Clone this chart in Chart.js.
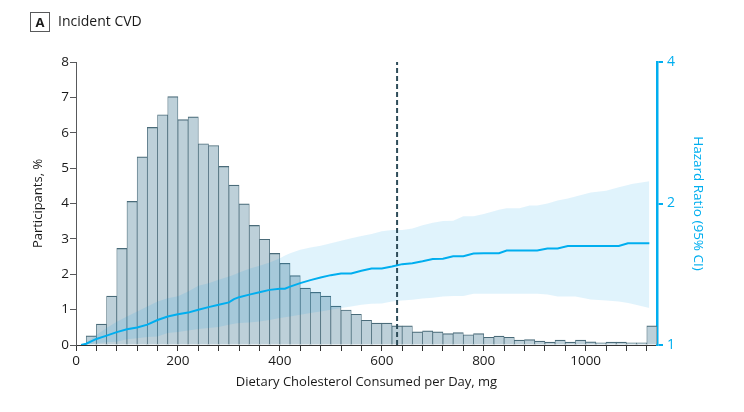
<!DOCTYPE html>
<html>
<head>
<meta charset="utf-8">
<script src="https://cdn.jsdelivr.net/npm/chart.js@4.4.1/dist/chart.umd.min.js"></script>
<style>
html,body{margin:0;padding:0;background:#fff;}
#wrap{position:relative;width:744px;height:412px;overflow:hidden;}
#c{position:absolute;left:0;top:0;}
.panel{position:absolute;left:30px;top:12px;width:18px;height:18px;border:1.5px solid #58595b;font:bold 13px 'Open Sans';line-height:18px;text-align:center;color:#1a1a1a;}
.ttl{position:absolute;left:58px;top:11px;font:14px 'Open Sans';line-height:20px;color:#1a1a1a;}
</style>
</head>
<body>
<div id="wrap">
<canvas id="c" width="744" height="412"></canvas>
<div class="panel">A</div>
<div class="ttl">Incident CVD</div>
</div>
<script>
// Histogram: 20-mg bins (start of each bin) and percentage of participants
const binWidth = 20;
const binStart = [20,40,60,80,100,120,140,160,180,200,220,240,260,280,300,320,340,360,380,400,
  420,440,460,480,500,520,540,560,580,600,620,640,660,680,700,720,740,760,780,800,
  820,840,860,880,900,920,940,960,980,1000,1020,1040,1060,1080,1100,1120];
const pct = [0.26,0.59,1.38,2.73,4.06,5.32,6.15,6.51,7.02,6.37,6.45,5.69,5.64,5.05,4.52,3.99,3.38,2.99,2.59,2.31,
  1.96,1.61,1.49,1.38,1.10,0.99,0.87,0.70,0.62,0.62,0.54,0.54,0.37,0.40,0.37,0.32,0.35,0.29,0.32,0.22,
  0.25,0.22,0.14,0.15,0.11,0.08,0.14,0.08,0.14,0.09,0.06,0.08,0.08,0.06,0.06,0.54];

// Hazard ratio curve with 95% CI
const hrDose = [10,20,40,60,80,100,120,140,160,180,200,220,240,260,280,300,310,320,340,360,
  380,400,410,420,440,460,480,500,520,540,560,580,600,620,640,660,680,700,720,740,
  760,780,800,830,845,870,890,905,925,945,965,980,1010,1040,1065,1083,1090,1125];
const hrEst = [1.0,1.006,1.03,1.047,1.065,1.08,1.09,1.105,1.13,1.15,1.162,1.172,1.188,1.204,1.218,1.232,1.252,1.264,1.28,1.295,
  1.31,1.317,1.317,1.331,1.354,1.374,1.392,1.408,1.42,1.42,1.438,1.454,1.454,1.469,1.486,1.493,1.507,1.524,1.526,1.544,
  1.545,1.565,1.567,1.568,1.588,1.588,1.588,1.588,1.604,1.604,1.624,1.624,1.624,1.624,1.624,1.646,1.646,1.646];
const hrUpper = [1.0,1.012,1.05,1.087,1.12,1.15,1.178,1.208,1.237,1.258,1.27,1.30,1.336,1.354,1.376,1.398,1.41,1.426,1.452,1.474,
  1.498,1.53,1.55,1.568,1.594,1.612,1.627,1.646,1.667,1.687,1.706,1.722,1.745,1.757,1.757,1.77,1.797,1.82,1.835,1.838,
  1.88,1.88,1.90,1.94,1.954,1.954,1.98,1.98,2.0,2.03,2.05,2.07,2.11,2.13,2.165,2.19,2.2,2.23];
const hrLower = [1.0,1.0,1.008,1.014,1.016,1.028,1.033,1.04,1.043,1.06,1.066,1.073,1.081,1.087,1.092,1.104,1.11,1.114,1.117,1.122,
  1.13,1.141,1.145,1.15,1.16,1.169,1.178,1.188,1.198,1.208,1.218,1.224,1.226,1.238,1.243,1.248,1.256,1.26,1.268,1.272,
  1.272,1.285,1.285,1.285,1.285,1.285,1.285,1.285,1.28,1.268,1.268,1.268,1.25,1.243,1.238,1.228,1.224,1.198];

const refDose = 630;
const xLabelValues = [0,200,400,600,800,1000];
const hrTicks = [1,2,4];

const FONT = "'Open Sans'";
const TXT = '#1a1a1a';
const CYAN = '#00aeef';

new Chart(document.getElementById('c'), {
  type: 'bar',
  data: {
    datasets: [
      { type:'line', data: hrDose.map((x,i)=>({x, y:hrEst[i]})), yAxisID:'y2',
        borderColor:CYAN, borderWidth:2, pointRadius:0, tension:0, fill:false, order:1 },
      { type:'line', data:[{x:refDose,y:0},{x:refDose,y:8}], yAxisID:'y',
        borderColor:'#2e4c59', borderWidth:2, borderDash:[5,3], pointRadius:0, fill:false, order:2 },
      { type:'line', data: hrDose.map((x,i)=>({x, y:hrUpper[i]})), yAxisID:'y2',
        borderColor:'rgba(0,0,0,0)', borderWidth:0, pointRadius:0, tension:0,
        fill:'+1', backgroundColor:'rgba(0,160,230,0.12)', order:3 },
      { type:'line', data: hrDose.map((x,i)=>({x, y:hrLower[i]})), yAxisID:'y2',
        borderColor:'rgba(0,0,0,0)', borderWidth:0, pointRadius:0, tension:0, fill:false, order:4 },
      { type:'bar', data: binStart.map((s,i)=>({x:s+binWidth/2, y:pct[i]})), yAxisID:'y',
        backgroundColor:'#bdd0d9', borderColor:'#4a6b79',
        borderWidth:{top:1.2,left:0.75,right:0.75,bottom:0}, borderSkipped:false,
        barPercentage:1, categoryPercentage:1, order:10 }
    ]
  },
  options: {
    responsive:false, animation:false, devicePixelRatio:1,
    layout:{ padding:{ top:62, left:0, right:0, bottom:0 } },
    plugins:{ legend:{display:false}, tooltip:{enabled:false}, title:{display:false} },
    scales:{
      x:{ type:'linear', min:0, max:1140, offset:false,
        grid:{ drawOnChartArea:false, drawTicks:true, tickLength:6, color:'#333', offset:false },
        border:{ display:true, color:'#333', width:1 },
        ticks:{ stepSize:40, includeBounds:false, autoSkip:false, maxRotation:0, padding:2,
          color:TXT, font:{family:FONT, size:13.5},
          callback:(v)=> xLabelValues.includes(v) ? String(v) : '' },
        title:{ display:true, text:'Dietary Cholesterol Consumed per Day, mg', color:TXT,
          font:{family:FONT, size:13}, padding:{top:0, bottom:22} },
        afterFit:(s)=>{ s.height = 67; }
      },
      y:{ type:'linear', position:'left', min:0, max:8,
        grid:{ drawOnChartArea:false, drawTicks:true, tickLength:6, color:'#58595b' },
        border:{ display:true, color:'#58595b', width:1 },
        ticks:{ stepSize:1, padding:1, color:TXT, font:{family:FONT, size:13.5} },
        title:{ display:true, text:'Participants, %', color:TXT, font:{family:FONT, size:13}, padding:{top:30,bottom:0} },
        afterFit:(s)=>{ s.width = 76; }
      },
      y2:{ type:'logarithmic', position:'right', min:1, max:4,
        grid:{ drawOnChartArea:false, drawTicks:true, tickLength:6, color:CYAN, lineWidth:2 },
        border:{ display:true, color:CYAN, width:2.5 },
        afterBuildTicks:(s)=>{ s.ticks = hrTicks.map(v=>({value:v})); },
        ticks:{ padding:4, color:CYAN, font:{family:FONT, size:14}, callback:(v)=>String(v) },
        title:{ display:true, text:'Hazard Ratio (95% CI)', color:CYAN, font:{family:FONT, size:13.5}, padding:{top:38,bottom:0} },
        afterFit:(s)=>{ s.width = 87; }
      }
    }
  }
});
</script>
</body>
</html>
